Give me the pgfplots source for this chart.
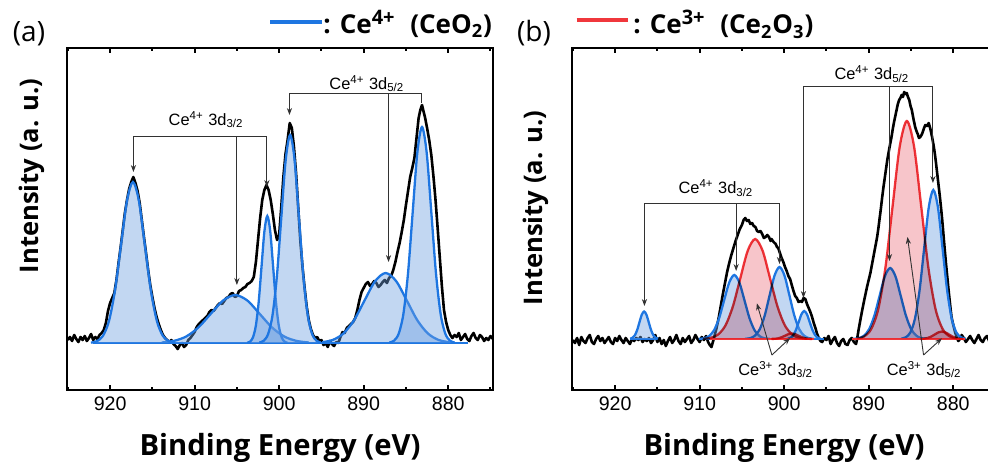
\documentclass[border=0pt]{standalone}
\usepackage{pgfplots}
\pgfplotsset{compat=1.18}
\usepackage{fontspec}
\setmainfont{Open Sans}
\newfontfamily\arial{Liberation Sans}
\usetikzlibrary{arrows.meta}
\definecolor{bline}{RGB}{30,118,225}
\definecolor{bfill}{RGB}{110,160,225}
\definecolor{rline}{RGB}{240,55,60}
\definecolor{rfill}{RGB}{240,140,150}
\definecolor{annc}{RGB}{50,50,50}
\tikzset{
  annot/.style={draw=annc, line width=0.45pt},
  arr/.style={annot, -{Stealth[length=3.5pt,width=2.6pt]}},
  annt/.style={font=\arial\fontsize{8.2}{9}\selectfont, anchor=base, inner sep=0pt},
}
\begin{document}
\begin{tikzpicture}
\pgfplotsset{
  panel/.style={scale only axis, width=213pt, height=171pt, anchor=south west,
    x dir=reverse, xmin=874.7, xmax=925.1, ymin=0, ymax=342,
    xtick={880,890,900,910,920}, minor xtick={875,885,895,905,915,925}, ytick=\empty,
    tick align=inside, major tick length=2.6pt, minor tick length=1.6pt,
    every tick/.style={black, line width=1pt},
    axis line style={line width=1.2pt},
    xticklabel style={font=\arial\fontsize{9.8}{11}\selectfont},
    /pgf/number format/assume math mode=true, /pgf/number format/1000 sep={}},
  bfit/.style={draw=bline, line width=1.15pt, fill=bfill, fill opacity=0.42, smooth},
  rfit/.style={draw=rline, line width=1.15pt, fill=rfill, fill opacity=0.5, smooth, blend mode=multiply},
  raw/.style={black, line width=1.3pt, line join=round},
}
% ---------------- panel (a) ----------------
\begin{axis}[panel, at={(33.5pt,-195pt)}]
\addplot[raw] coordinates {
(925.0,50) (924.75,53) (924.5,49) (924.25,55) (924.0,51) (923.75,48) (923.5,53) (923.25,50)
(923.0,54) (922.75,49) (922.5,52) (922.25,56) (922.0,50) (921.75,53) (921.5,51) (921.25,55)
(921.0,57) (920.75,60) (920.5,67) (920.25,79) (920.0,87) (919.75,92) (919.5,97) (919.25,110)
(919.0,127) (918.75,143) (918.5,160) (918.25,177) (918.0,190) (917.75,201) (917.5,208)
(917.25,213) (917.0,207) (916.75,199) (916.5,187) (916.25,170) (916.0,153) (915.75,137) (915.5,120)
(915.25,105) (915.0,93) (914.75,82) (914.5,73) (914.25,66) (914.0,60) (913.75,55)
(913.5,52) (913.25,50) (913.0,48) (912.75,50) (912.5,46) (912.25,44) (912.0,41) (911.75,45)
(911.5,47) (911.25,43) (911.0,45) (910.75,50) (910.5,52) (910.25,55) (910.0,58) (909.75,63)
(909.5,66) (909.25,68) (909.0,70) (908.75,72) (908.5,74) (908.25,78) (908.0,80) (907.75,79)
(907.5,82) (907.25,85) (907.0,87) (906.75,86) (906.5,89) (906.25,92) (906.0,93) (905.75,96)
(905.5,97) (905.25,93) (905.0,94) (904.75,99) (904.5,100) (904.25,102) (904.0,103) (903.75,106)
(903.5,107) (903.25,109) (903.0,113) (902.75,128) (902.5,150) (902.25,172) (902.0,190)
(901.75,200) (901.5,205) (901.25,200) (901.0,190) (900.75,176) (900.5,160) (900.25,150) (900.0,155)
(899.75,183) (899.5,213) (899.25,236) (899.0,250) (898.75,267) (898.5,262) (898.25,243) (898.0,217)
(897.75,183) (897.5,150) (897.25,124) (897.0,103) (896.75,84) (896.5,70) (896.25,61) (896.0,55)
(895.75,52) (895.5,53) (895.25,49) (895.0,50) (894.75,45) (894.5,47) (894.25,43) (894.0,49)
(893.75,46) (893.5,44) (893.25,48) (893.0,47) (892.75,53) (892.5,58) (892.25,57) (892.0,62)
(891.75,64) (891.5,66) (891.25,68) (891.0,72) (890.75,80) (890.5,90) (890.25,98) (890.0,102)
(889.75,106) (889.5,108) (889.25,104) (889.0,106) (888.75,109) (888.5,107) (888.25,103) (888.0,105)
(887.75,108) (887.5,110) (887.25,107) (887.0,112) (886.75,114) (886.5,120) (886.25,128) (886.0,138)
(885.75,147) (885.5,158) (885.25,170) (885.0,185) (884.75,199) (884.5,213) (884.25,222) (884.0,232)
(883.75,252) (883.5,272) (883.3,280) (883.1,285) (882.9,278) (882.75,273) (882.5,262) (882.25,250)
(882.0,235) (881.75,214) (881.5,190) (881.25,162) (881.0,133) (880.75,104) (880.5,80) (880.25,68)
(880.0,60) (879.75,55) (879.5,52) (879.25,55) (879.0,53) (878.75,57) (878.5,50) (878.25,53)
(878.0,56) (877.75,51) (877.5,49) (877.25,54) (877.0,57) (876.75,52) (876.5,50) (876.25,55)
(876.0,53) (875.75,49) (875.5,52) (875.25,50) (875.0,54) (874.7,51)};
\addplot[bline, line width=1.2pt] coordinates {(877.6,47) (922,47)};
\addplot[bfit] coordinates {(896.5,47.5) (897.95,49.1) (899.4,53.5) (900.85,62.6) (902.3,76.1) (903.75,89.4) (905.2,95) (906.65,89.4) (908.1,76.1) (909.55,62.6) (911.0,53.5) (912.45,49.1) (913.9,47.5)};
\addplot[bfit] coordinates {(879.9,47.8) (881.15,50.1) (882.4,56.5) (883.65,69.7) (884.9,89.5) (886.15,108.8) (887.4,117) (888.65,108.8) (889.9,89.5) (891.15,69.7) (892.4,56.5) (893.65,50.1) (894.9,47.8)};
\addplot[bfit] coordinates {(912.33,47.4) (913.04,48.8) (913.75,54.1) (914.46,68.8) (915.17,99.3) (915.88,144.6) (916.59,189.1) (917.30,208) (918.01,189.1) (918.72,144.6) (919.43,99.3) (920.14,68.8) (920.85,54.1) (921.56,48.8) (922.27,47.4)};
\addplot[bfit] coordinates {(899.02,47.3) (899.36,48.4) (899.70,52.6) (900.04,64.2) (900.38,88.2) (900.72,124.0) (901.06,159.1) (901.40,174) (901.74,159.1) (902.08,124.0) (902.42,88.2) (902.76,64.2) (903.10,52.6) (903.44,48.4) (903.78,47.3)};
\addplot[bfit] coordinates {(895.06,47.5) (895.58,49.3) (896.10,56.1) (896.62,75.1) (897.14,114.5) (897.66,173.2) (898.18,230.6) (898.70,255) (899.22,230.6) (899.74,173.2) (900.26,114.5) (900.78,75.1) (901.30,56.1) (901.82,49.3) (902.34,47.5)};
\addplot[bfit] coordinates {(879.25,47.5) (879.8,49.4) (880.35,56.5) (880.9,76.2) (881.45,117.1) (882.0,178.0) (882.55,237.6) (883.1,263) (883.65,237.6) (884.2,178.0) (884.75,117.1) (885.3,76.2) (885.85,56.5) (886.4,49.4) (886.95,47.5)};
% annotations
\draw[annot] (axis cs:917.24,254) -- (axis cs:901.45,254);
\draw[arr] (axis cs:917.24,254) -- (axis cs:917.24,218);
\draw[arr] (axis cs:905.0,254) -- (axis cs:905.0,105);
\draw[arr] (axis cs:901.45,254) -- (axis cs:901.45,203);
\node[annt] at (axis cs:908.64,265) {Ce\textsuperscript{4+} 3d\textsubscript{3/2}};
\draw[annot] (axis cs:898.78,296.7) -- (axis cs:883.11,296.7);
\draw[arr] (axis cs:898.78,296.7) -- (axis cs:898.78,275);
\draw[arr] (axis cs:887.06,296.7) -- (axis cs:887.06,128);
\draw[annot] (axis cs:883.11,296.7) -- (axis cs:883.11,287);
\node[annt] at (axis cs:889.62,301) {Ce\textsuperscript{4+} 3d\textsubscript{5/2}};
\end{axis}
% ---------------- panel (b) ----------------
\begin{axis}[panel, at={(286pt,-195pt)}]
\addplot[raw] coordinates {
(925.0,50) (924.75,47) (924.5,52) (924.25,45) (924.0,53) (923.75,49) (923.5,47) (923.25,52)
(923.0,55) (922.75,48) (922.5,46) (922.25,51) (922.0,54) (921.75,49) (921.5,52) (921.25,47)
(921.0,50) (920.75,53) (920.5,48) (920.25,46) (920.0,52) (919.75,49) (919.5,54) (919.25,50)
(919.0,47) (918.75,52) (918.5,49) (918.25,46) (918.0,51) (917.75,49) (917.5,52) (917.25,50)
(917.0,53) (916.75,48) (916.5,51) (916.25,49) (916.0,52) (915.75,47) (915.5,50) (915.25,55)
(915.0,48) (914.75,52) (914.5,46) (914.25,50) (914.0,44) (913.75,49) (913.5,53) (913.25,47)
(913.0,50) (912.75,55) (912.5,49) (912.25,46) (912.0,52) (911.75,48) (911.5,51) (911.25,54)
(911.0,47) (910.75,50) (910.5,55) (910.25,51) (910.0,48) (909.75,53) (909.5,50) (909.25,54)
(909.0,48) (908.8,45) (908.6,43) (908.3,52) (908.0,62) (907.75,72) (907.5,84) (907.25,96)
(907.0,107) (906.75,118) (906.5,127) (906.25,135) (906.0,142) (905.75,149) (905.5,155) (905.25,161)
(905.0,165) (904.8,170) (904.6,172) (904.4,169) (904.2,170) (904.0,166) (903.8,167) (903.6,164)
(903.4,163) (903.2,159) (903.0,158) (902.8,159) (902.6,156) (902.4,152) (902.2,153) (902.0,155)
(901.8,153) (901.6,149) (901.5,151) (901.25,148) (901.0,146) (900.85,143) (900.7,142) (900.5,137)
(900.3,132) (900.1,128) (899.9,123) (899.7,119) (899.5,114) (899.3,111) (899.1,105) (898.9,99)
(898.7,94) (898.5,92) (898.3,88) (898.1,89) (897.9,88) (897.7,92) (897.5,91) (897.3,86)
(897.1,82) (896.9,78) (896.7,73) (896.5,67) (896.3,62) (896.1,56) (895.9,52) (895.7,49)
(895.5,48) (895.25,52) (895.0,50) (894.75,54) (894.5,46) (894.25,50) (894.0,53) (893.75,47)
(893.5,44) (893.25,49) (893.0,51) (892.75,46) (892.5,45) (892.25,50) (892.0,52) (891.75,48)
(891.5,46) (891.35,52) (891.2,60) (890.9,74) (890.6,87) (890.4,95) (890.2,103) (890.0,110)
(889.8,117) (889.6,126) (889.4,135) (889.2,144) (889.0,153) (888.85,162) (888.7,172) (888.55,182)
(888.4,193) (888.25,203) (888.1,212) (887.95,221) (887.8,230) (887.55,242) (887.3,253) (887.15,261)
(887.0,268) (886.85,274) (886.7,280) (886.55,286) (886.4,290) (886.25,292) (886.1,295) (885.95,293)
(885.8,298) (885.65,296) (885.5,297) (885.35,293) (885.2,290) (885.05,284) (884.9,280) (884.7,271)
(884.5,263) (884.35,259) (884.2,256) (884.05,252) (883.9,253) (883.75,255) (883.6,258) (883.45,262)
(883.3,265) (883.1,264) (882.9,267) (882.7,261) (882.5,253) (882.35,246) (882.2,238) (882.05,228)
(881.9,217) (881.75,206) (881.6,195) (881.45,183) (881.3,170) (881.15,155) (881.0,140) (880.85,126)
(880.7,113) (880.55,100) (880.4,88) (880.3,80) (880.2,73) (880.05,67) (879.9,62) (879.75,57)
(879.6,53) (879.4,49) (879.2,51) (879.0,55) (878.75,52) (878.5,48) (878.25,51) (878.0,54)
(877.75,50) (877.5,47) (877.25,51) (877.0,55) (876.75,50) (876.5,48) (876.25,52) (876.0,54)
(875.75,49) (875.5,47) (875.25,51) (875.0,53) (874.7,49)};
\addplot[bline, line width=1.2pt] coordinates {(915,51) (918.2,51)};
\addplot[bline, line width=1.2pt] coordinates {(895.3,51) (909.2,51)};
\addplot[bline, line width=1.2pt] coordinates {(878.6,51) (891.9,51)};
\addplot[bfit] coordinates {(914.92,51.3) (915.195,52.2) (915.47,54.7) (915.745,59.9) (916.02,67.7) (916.295,75.3) (916.57,78.5) (916.845,75.3) (917.12,67.7) (917.395,59.9) (917.67,54.7) (917.945,52.2) (918.22,51.3)};
\addplot[bfit] coordinates {(901.7,51.1) (902.3,51.7) (902.9,53.8) (903.5,59.7) (904.1,71.8) (904.7,89.8) (905.3,107.5) (905.9,115) (906.5,107.5) (907.1,89.8) (907.7,71.8) (908.3,59.7) (908.9,53.8) (909.5,51.7) (910.1,51.1)};
\addplot[bfit] coordinates {(896.455,51.2) (897.04,51.8) (897.625,54.2) (898.21,60.7) (898.795,74.4) (899.38,94.7) (899.965,114.5) (900.55,123) (901.135,114.5) (901.72,94.7) (902.305,74.4) (902.89,60.7) (903.475,54.2) (904.06,51.8) (904.645,51.2)};
\addplot[bfit] coordinates {(895.68,51.3) (896.005,52.2) (896.33,54.8) (896.655,60.1) (896.98,68) (897.305,75.7) (897.63,79) (897.955,75.7) (898.28,68) (898.605,60.1) (898.93,54.8) (899.255,52.2) (899.58,51.3)};
\addplot[bfit] coordinates {(883.085,51.2) (883.71,51.8) (884.335,54.1) (884.96,60.6) (885.585,74.1) (886.21,94.1) (886.835,113.7) (887.46,122) (888.085,113.7) (888.71,94.1) (889.335,74.1) (889.96,60.6) (890.585,54.1) (891.21,51.8) (891.835,51.2)};
\addplot[bfit] coordinates {(878.535,51.3) (879.08,52.7) (879.625,57.5) (880.17,71.2) (880.715,99.4) (881.26,141.4) (881.805,182.5) (882.35,200) (882.895,182.5) (883.44,141.4) (883.985,99.4) (884.53,71.2) (885.075,57.5) (885.62,52.7) (886.165,51.3)};
\addplot[rline, line width=1.3pt] coordinates {(896.5,51) (908.8,51)};
\addplot[rline, line width=1.3pt] coordinates {(878.6,51) (892,51)};
\addplot[rfit] coordinates {(897.27,51.2) (898.15,52.1) (899.03,55.4) (899.91,64.5) (900.79,83.5) (901.67,111.7) (902.55,139.3) (903.43,151) (904.31,139.3) (905.19,111.7) (906.07,83.5) (906.95,64.5) (907.83,55.4) (908.71,52.1) (909.59,51.2)};
\addplot[rfit] coordinates {(896.7,51.1) (897.1,51.2) (897.5,51.7) (897.9,52.8) (898.3,54.3) (898.7,55.9) (899.1,56.5) (899.5,55.9) (899.9,54.3) (900.3,52.8) (900.7,51.7) (901.1,51.2) (901.5,51.1)};
\addplot[rfit] coordinates {(879.53,51.5) (880.38,53.4) (881.23,60.6) (882.08,80.5) (882.93,121.8) (883.78,183.2) (884.63,243.4) (885.48,269) (886.33,243.4) (887.18,183.2) (888.03,121.8) (888.88,80.5) (889.73,60.6) (890.58,53.4) (891.43,51.5)};
\addplot[rfit] coordinates {(878.79,51.1) (879.215,51.3) (879.64,52.0) (880.065,53.4) (880.49,55.5) (880.915,57.6) (881.34,58.5) (881.765,57.6) (882.19,55.5) (882.615,53.4) (883.04,52.0) (883.465,51.3) (883.89,51.1)};
% annotations
\draw[annot] (axis cs:916.53,186.7) -- (axis cs:900.55,186.7);
\draw[arr] (axis cs:916.53,186.7) -- (axis cs:916.53,84);
\draw[arr] (axis cs:905.68,186.7) -- (axis cs:905.68,119);
\draw[arr] (axis cs:900.55,186.7) -- (axis cs:900.55,126);
\node[annt] at (axis cs:908.07,196.7) {Ce\textsuperscript{4+} 3d\textsubscript{3/2}};
\draw[annot] (axis cs:897.72,304) -- (axis cs:882.4,304);
\draw[arr] (axis cs:897.72,304) -- (axis cs:897.72,92);
\draw[arr] (axis cs:887.54,304) -- (axis cs:887.54,129);
\draw[arr] (axis cs:882.4,304) -- (axis cs:882.4,207);
\node[annt] at (axis cs:889.62,310.5) {Ce\textsuperscript{4+} 3d\textsubscript{5/2}};
\draw[arr] (axis cs:901.45,35) -- (axis cs:903.23,86.7);
\draw[arr] (axis cs:901.45,35) -- (axis cs:899.3,52);
\node[annt] at (axis cs:901.0,15) {Ce\textsuperscript{3+} 3d\textsubscript{3/2}};
\draw[arr] (axis cs:883.51,35) -- (axis cs:885.41,153);
\draw[arr] (axis cs:883.51,35) -- (axis cs:881.34,51.7);
\node[annt] at (axis cs:883.43,15) {Ce\textsuperscript{3+} 3d\textsubscript{5/2}};
\end{axis}
% ---------------- labels and legend ----------------
\node[font=\fontsize{14}{16}\selectfont] at (14.5pt,-17pt) {(a)};
\node[font=\fontsize{14}{16}\selectfont] at (267pt,-16.5pt) {(b)};
\node[font=\bfseries\fontsize{12.8}{14}\selectfont, rotate=90] at (16pt,-88pt) {Intensity (a. u.)};
\node[font=\bfseries\fontsize{12.8}{14}\selectfont, rotate=90] at (268pt,-104pt) {Intensity (a. u.)};
\node[font=\bfseries\fontsize{14.6}{16}\selectfont, anchor=base] at (140pt,-227.5pt) {Binding Energy (eV)};
\node[font=\bfseries\fontsize{14.6}{16}\selectfont, anchor=base] at (392pt,-227.5pt) {Binding Energy (eV)};
\draw[bline, line width=2pt] (135pt,-10.8pt) -- (161pt,-10.8pt);
\node[font=\bfseries\fontsize{13}{15}\selectfont, anchor=base west, inner sep=0pt] at (161.5pt,-16.5pt) {: Ce\textsuperscript{\fontsize{10}{11}\selectfont 4+}\hspace{4pt} (CeO\textsubscript{2})};
\draw[rline, line width=2pt] (288.3pt,-10pt) -- (314.2pt,-10pt);
\node[font=\bfseries\fontsize{13}{15}\selectfont, anchor=base west, inner sep=0pt] at (316.5pt,-16.7pt) {: Ce\textsuperscript{\fontsize{10}{11}\selectfont 3+}\hspace{4pt} (Ce\textsubscript{2}O\textsubscript{3})};
\pgfresetboundingbox
\useasboundingbox (0,0) rectangle (494pt,-230.5pt);
\end{tikzpicture}
\end{document}
